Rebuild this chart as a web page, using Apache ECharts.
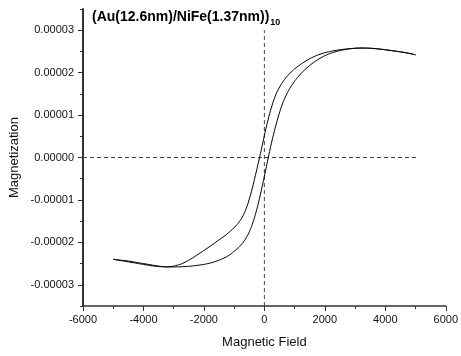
<!DOCTYPE html>
<html><head><meta charset="utf-8">
<script src="https://cdn.jsdelivr.net/npm/echarts@6/dist/echarts.min.js"></script>
<style>html,body{margin:0;padding:0;background:#fff}#c{width:461px;height:356px}</style>
</head><body><div id="c"></div>
<script>
// Magnetization values are in units of 1e-5
const M_UNIT = 1e-5;

// Descending branch (from +5000 down to -5000)
const descField = [5000,4750,4500,4250,4000,3750,3500,3250,3000,2750,2500,2250,2000,1750,1500,1250,1000,850,700,550,400,300,200,100,0,-100,-160,-250,-350,-450,-550,-650,-750,-900,-1100,-1300,-1500,-1750,-2000,-2250,-2500,-2750,-3000,-3250,-3500,-3750,-4000,-4250,-4500,-4750,-5000];
const descMag   = [2.42,2.46,2.49,2.515,2.54,2.56,2.575,2.58,2.575,2.56,2.54,2.51,2.47,2.41,2.33,2.22,2.09,1.99,1.87,1.72,1.52,1.33,1.10,0.83,0.52,0.19,0.00,-0.28,-0.58,-0.86,-1.10,-1.29,-1.43,-1.58,-1.72,-1.84,-1.94,-2.07,-2.19,-2.31,-2.42,-2.51,-2.56,-2.58,-2.57,-2.55,-2.52,-2.49,-2.46,-2.43,-2.40];

// Ascending branch (from -5000 up to +5000)
const ascField = [-5000,-4750,-4500,-4250,-4000,-3750,-3500,-3250,-3000,-2750,-2500,-2250,-2000,-1750,-1500,-1250,-1100,-900,-750,-650,-550,-450,-350,-250,-150,-50,50,150,250,350,475,550,650,800,1000,1100,1250,1500,1750,2000,2250,2500,2750,3000,3250,3500,3750,4000,4250,4500,4750,5000];
const ascMag   = [-2.40,-2.42,-2.44,-2.47,-2.50,-2.53,-2.56,-2.575,-2.58,-2.575,-2.565,-2.545,-2.52,-2.48,-2.42,-2.34,-2.27,-2.15,-2.04,-1.95,-1.83,-1.67,-1.47,-1.22,-0.93,-0.61,-0.27,0.07,0.39,0.68,1.00,1.17,1.36,1.58,1.80,1.89,2.01,2.17,2.30,2.40,2.47,2.52,2.555,2.575,2.58,2.575,2.56,2.54,2.515,2.49,2.46,2.42];

// Dashed reference lines
const hLineField = [-6000, 5100];
const hLineMag = [0, 0];
const vLineField = [0, 0];
const vLineMag = [-3.5, 3.0];

// Axes
const xMin = -6000, xMax = 6000, xStep = 2000;
const yMin = -3.5, yMax = 3.5, yMinorStep = 0.5;
const yLabelMin = -3, yLabelMax = 3, yLabelStep = 1;

const titleMain = '(Au(12.6nm)/NiFe(1.37nm))';
const titleSub = '10';
const xName = 'Magnetic Field';
const yName = 'Magnetization';

const pair = (xs, ys) => xs.map((x, i) => [x, ys[i]]);
const axisColor = '#333';
const font = 'Liberation Sans, Arial, sans-serif';
const plotH = 297;

const chart = echarts.init(document.getElementById('c'), null, {renderer: 'canvas'});
chart.setOption({
  animation: false,
  backgroundColor: '#fff',
  title: {
    text: '{a|' + titleMain + '}{b|' + titleSub + '}',
    left: 87, top: 3,
    textStyle: {
      rich: {
        a: {fontFamily: font, fontSize: 14, fontWeight: 'bold', color: '#000', lineHeight: 18},
        b: {fontFamily: font, fontSize: 9, fontWeight: 'bold', color: '#000', padding: [10, 0, 0, 1]}
      }
    }
  },
  grid: [
    {left: 83, right: 11, top: 9, bottom: 50},
    {left: 83, right: 11, top: 9 + 0.5 * plotH / 7, bottom: 50 + 0.5 * plotH / 7}
  ],
  xAxis: [
    {
      type: 'value', gridIndex: 0, min: xMin, max: xMax, interval: xStep,
      name: xName, nameLocation: 'middle', nameGap: 30,
      nameTextStyle: {fontFamily: font, fontSize: 13, color: '#111'},
      axisLine: {show: true, onZero: false, lineStyle: {color: axisColor, width: 1.5}},
      axisTick: {show: true, inside: false, length: 5, lineStyle: {color: axisColor}},
      minorTick: {show: true, splitNumber: 2, length: 3, lineStyle: {color: axisColor}},
      axisLabel: {fontFamily: font, fontSize: 11, color: '#111', margin: 8,
        formatter: v => String(v)},
      splitLine: {show: false}
    },
    {
      type: 'value', gridIndex: 1, min: xMin, max: xMax, show: false
    }
  ],
  yAxis: [
    {
      type: 'value', gridIndex: 0, min: yMin, max: yMax, interval: yMinorStep,
      name: yName, nameLocation: 'middle', nameGap: 62,
      nameTextStyle: {fontFamily: font, fontSize: 13, color: '#111'},
      axisLine: {show: true, onZero: false, lineStyle: {color: axisColor, width: 2}},
      axisTick: {show: true, inside: false, length: 3, lineStyle: {color: axisColor}},
      axisLabel: {show: false},
      splitLine: {show: false}
    },
    {
      type: 'value', gridIndex: 1, min: yLabelMin, max: yLabelMax, interval: yLabelStep,
      axisLine: {show: false, onZero: false},
      axisTick: {show: true, inside: false, length: 5, lineStyle: {color: axisColor}},
      axisLabel: {fontFamily: font, fontSize: 11, color: '#111', margin: 9,
        formatter: v => (v * M_UNIT).toFixed(5)},
      splitLine: {show: false}
    }
  ],
  series: [
    {type: 'line', xAxisIndex: 0, yAxisIndex: 0, data: pair(hLineField, hLineMag), showSymbol: false,
     lineStyle: {color: '#444', width: 1, type: [4, 3]}, silent: true},
    {type: 'line', xAxisIndex: 0, yAxisIndex: 0, data: pair(vLineField, vLineMag), showSymbol: false,
     lineStyle: {color: '#444', width: 1, type: [4, 3]}, silent: true},
    {type: 'line', xAxisIndex: 0, yAxisIndex: 0, data: pair(descField, descMag), showSymbol: false, smooth: 0.2,
     lineStyle: {color: '#000', width: 1}},
    {type: 'line', xAxisIndex: 0, yAxisIndex: 0, data: pair(ascField, ascMag), showSymbol: false, smooth: 0.2,
     lineStyle: {color: '#000', width: 1}}
  ]
});
</script></body></html>
